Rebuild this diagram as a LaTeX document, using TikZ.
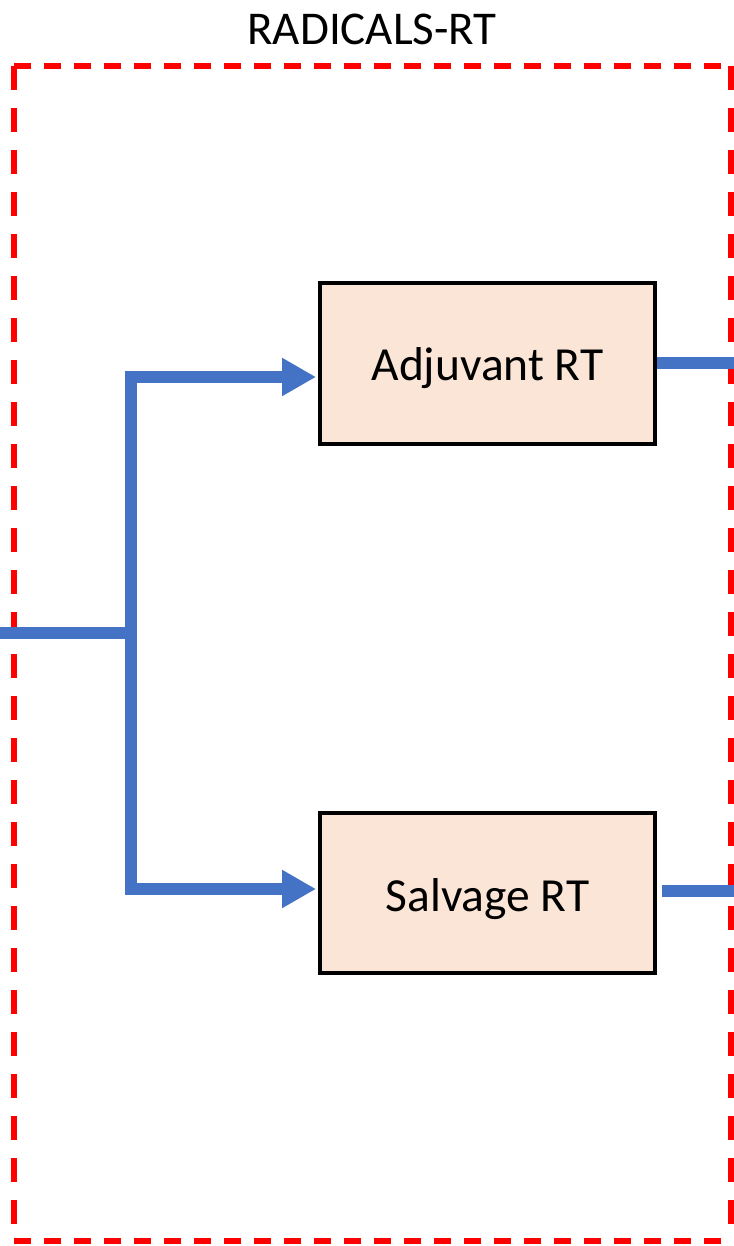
\documentclass[tikz,border=0pt]{standalone}
\usepackage{fontspec}
\setmainfont{Carlito}
\usetikzlibrary{arrows.meta}
\definecolor{flowblue}{HTML}{4472C4}
\definecolor{boxfill}{HTML}{FBE5D6}
\definecolor{dashred}{HTML}{FF0000}
\begin{document}
\begin{tikzpicture}[x=1pt,y=-1pt,
  stepbox/.style={draw=black, line width=4pt, fill=boxfill, minimum width=335pt,
    minimum height=161pt, inner sep=0pt, text depth=0pt, font=\fontsize{47.5}{56}\selectfont},
  flow/.style={draw=flowblue, line width=12.5pt},
  flowarrow/.style={flow, -{Triangle[length=34pt,width=36pt]}, shorten >=2pt},
  hframe/.style={draw=dashred, line width=5.5pt, dash pattern=on 17pt off 13pt},
  vframe/.style={draw=dashred, line width=5.5pt, dash pattern=on 24pt off 18pt},
  titletext/.style={font=\fontsize{47}{56}\selectfont, inner sep=0pt}
]
\useasboundingbox (0,0) rectangle (733,1246);
\coordinate (tl) at (14,66);
\coordinate (tr) at (731,66);
\coordinate (bl) at (14,1241);
\coordinate (br) at (731,1241);
\draw[hframe] (tl) -- (tr);
\draw[hframe] (bl) -- (br);
\draw[vframe] (tl) -- (bl);
\draw[vframe] (tr) -- (br);
\node[titletext, anchor=base] (title) at (372,45) {RADICALS-RT};
\node[stepbox, text height=33pt] (adj) at (487.5,363.5) {Adjuvant RT};
\node[stepbox, minimum height=160pt, text height=36pt] (sal) at (487.5,893) {Salvage RT};
\coordinate (in) at (-5,633);
\coordinate (split) at (131,633);
\coordinate (adjout) at (745,363);
\coordinate (salout) at (745,891);
\draw[flow] (in) -- (split);
\draw[flowarrow] (split) |- ([yshift=-13.5pt]adj.west);
\draw[flowarrow] (split) |- ([yshift=4pt]sal.west);
\draw[flow] (adj.east |- adjout) -- (adjout);
\draw[flow] ([xshift=5pt]sal.east |- salout) -- (salout);
\end{tikzpicture}
\end{document}
